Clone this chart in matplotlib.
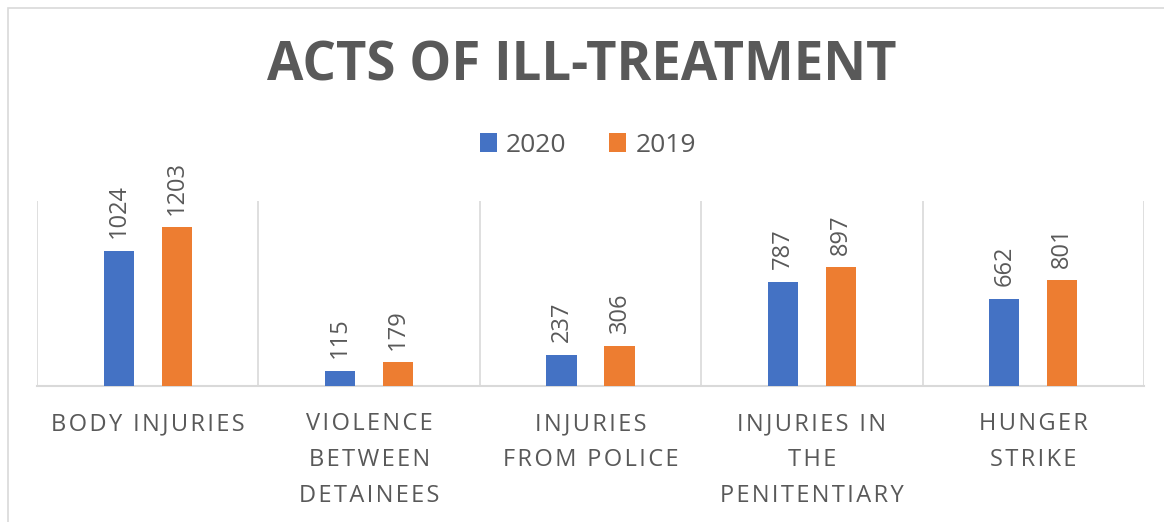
import matplotlib
matplotlib.use("Agg")
import matplotlib.pyplot as plt
from matplotlib.patches import Rectangle
import numpy as np

categories = ["BODY INJURIES", "VIOLENCE\nBETWEEN\nDETAINEES", "INJURIES\nFROM POLICE",
              "INJURIES IN\nTHE\nPENITENTIARY", "HUNGER\nSTRIKE"]
values_2020 = [1024, 115, 237, 787, 662]
values_2019 = [1203, 179, 306, 897, 801]
series_labels = ["2020", "2019"]

BLUE = "#4472C4"
ORANGE = "#ED7D31"
TEXT = "#595959"
GRID = "#D9D9D9"


def spaced(s, sep="\u200a"):
    # imitate the letter spacing of the office-style axis labels
    return "\n".join(sep.join(line) for line in s.split("\n"))


fig = plt.figure(figsize=(11.64, 5.22), dpi=100)
ax = fig.add_axes([0.0318, 0.2605, 0.951, 0.3545])

# outer chart border
fig.patches.append(Rectangle((8 / 1164, -0.1), 1.2, 1 - 8 / 522 + 0.1,
                             transform=fig.transFigure, fill=False,
                             edgecolor=GRID, linewidth=1.2))

x = np.arange(len(categories))
w = 0.136
off = 0.131
b1 = ax.bar(x - off, values_2020, w, color=BLUE, label=series_labels[0], zorder=3)
b2 = ax.bar(x + off, values_2019, w, color=ORANGE, label=series_labels[1], zorder=3)

for bars in (b1, b2):
    ax.bar_label(bars, rotation=90, padding=9, color=TEXT, fontsize=17,
                 family="Open Sans")

ax.set_xlim(-0.5, len(categories) - 0.5)
ax.set_ylim(0, 1400)
ax.set_yticks([])
ax.set_xticks(x)
ax.set_xticklabels([spaced(c) for c in categories], color=TEXT, fontsize=17,
                   family="Open Sans", linespacing=1.65, va="top")
ax.tick_params(axis="x", length=0, pad=19)
ax.set_xticks(np.arange(-0.5, len(categories)), minor=True)
ax.tick_params(axis="x", which="minor", length=0)
ax.grid(True, axis="x", which="minor", color=GRID, linewidth=1.2, zorder=0)

for side in ("top", "right", "left"):
    ax.spines[side].set_visible(False)
ax.spines["bottom"].set_color(GRID)
ax.spines["bottom"].set_linewidth(1.5)

fig.text(0.5, 0.872, "ACTS OF ILL-TREATMENT", ha="center", va="center",
         fontsize=38, fontweight="bold", color=TEXT, family="Open Sans")

fig.legend(loc="center", bbox_to_anchor=(0.505, 0.722), ncol=2, frameon=False,
           handlelength=0.65, handleheight=0.7, handletextpad=0.35,
           columnspacing=1.6, labelcolor=TEXT, prop={"family": "Open Sans", "size": 19})

fig.savefig("out.png", dpi=100)
